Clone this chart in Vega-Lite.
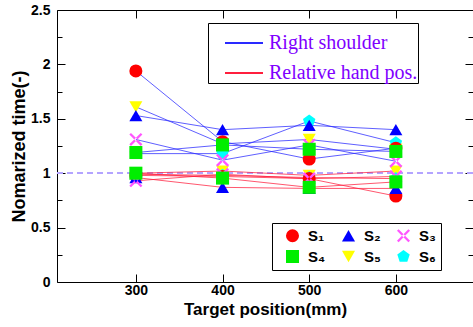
{
  "$schema": "https://vega.github.io/schema/vega-lite/v6.json",
  "autosize": {"type": "none"},
  "padding": {"left": 57, "top": 10, "right": 0, "bottom": 45},
  "width": 416,
  "height": 272,
  "config": {
    "view": {"stroke": null},
    "font": "Liberation Sans",
    "axis": {"grid": false, "domainColor": "#000000", "tickColor": "#000000", "labelColor": "#000000", "titleColor": "#000000"}
  },
  "data": {
    "values": [
      {"pos": 300, "group": "Right shoulder", "subject": "s5", "value": 1.61},
      {"pos": 400, "group": "Right shoulder", "subject": "s5", "value": 1.27},
      {"pos": 500, "group": "Right shoulder", "subject": "s5", "value": 1.31},
      {"pos": 600, "group": "Right shoulder", "subject": "s5", "value": 1.22},
      {"pos": 300, "group": "Relative hand pos.", "subject": "s5", "value": 1.00},
      {"pos": 400, "group": "Relative hand pos.", "subject": "s5", "value": 1.02},
      {"pos": 500, "group": "Relative hand pos.", "subject": "s5", "value": 0.98},
      {"pos": 600, "group": "Relative hand pos.", "subject": "s5", "value": 1.02},
      {"pos": 300, "group": "Right shoulder", "subject": "s6", "value": 1.18},
      {"pos": 400, "group": "Right shoulder", "subject": "s6", "value": 1.18},
      {"pos": 500, "group": "Right shoulder", "subject": "s6", "value": 1.48},
      {"pos": 600, "group": "Right shoulder", "subject": "s6", "value": 1.28},
      {"pos": 300, "group": "Relative hand pos.", "subject": "s6", "value": 0.99},
      {"pos": 400, "group": "Relative hand pos.", "subject": "s6", "value": 0.98},
      {"pos": 500, "group": "Relative hand pos.", "subject": "s6", "value": 0.96},
      {"pos": 600, "group": "Relative hand pos.", "subject": "s6", "value": 0.95},
      {"pos": 300, "group": "Right shoulder", "subject": "s1", "value": 1.94},
      {"pos": 400, "group": "Right shoulder", "subject": "s1", "value": 1.29},
      {"pos": 500, "group": "Right shoulder", "subject": "s1", "value": 1.13},
      {"pos": 600, "group": "Right shoulder", "subject": "s1", "value": 1.23},
      {"pos": 300, "group": "Relative hand pos.", "subject": "s1", "value": 0.98},
      {"pos": 400, "group": "Relative hand pos.", "subject": "s1", "value": 0.97},
      {"pos": 500, "group": "Relative hand pos.", "subject": "s1", "value": 0.95},
      {"pos": 600, "group": "Relative hand pos.", "subject": "s1", "value": 0.79},
      {"pos": 300, "group": "Right shoulder", "subject": "s2", "value": 1.53},
      {"pos": 400, "group": "Right shoulder", "subject": "s2", "value": 1.40},
      {"pos": 500, "group": "Right shoulder", "subject": "s2", "value": 1.44},
      {"pos": 600, "group": "Right shoulder", "subject": "s2", "value": 1.40},
      {"pos": 300, "group": "Relative hand pos.", "subject": "s2", "value": 0.96},
      {"pos": 400, "group": "Relative hand pos.", "subject": "s2", "value": 0.87},
      {"pos": 500, "group": "Relative hand pos.", "subject": "s2", "value": 0.86},
      {"pos": 600, "group": "Relative hand pos.", "subject": "s2", "value": 0.86},
      {"pos": 300, "group": "Right shoulder", "subject": "s3", "value": 1.31},
      {"pos": 400, "group": "Right shoulder", "subject": "s3", "value": 1.12},
      {"pos": 500, "group": "Right shoulder", "subject": "s3", "value": 1.26},
      {"pos": 600, "group": "Right shoulder", "subject": "s3", "value": 1.11},
      {"pos": 300, "group": "Relative hand pos.", "subject": "s3", "value": 0.93},
      {"pos": 400, "group": "Relative hand pos.", "subject": "s3", "value": 0.99},
      {"pos": 500, "group": "Relative hand pos.", "subject": "s3", "value": 0.95},
      {"pos": 600, "group": "Relative hand pos.", "subject": "s3", "value": 0.97},
      {"pos": 300, "group": "Right shoulder", "subject": "s4", "value": 1.19},
      {"pos": 400, "group": "Right shoulder", "subject": "s4", "value": 1.26},
      {"pos": 500, "group": "Right shoulder", "subject": "s4", "value": 1.22},
      {"pos": 600, "group": "Right shoulder", "subject": "s4", "value": 1.20},
      {"pos": 300, "group": "Relative hand pos.", "subject": "s4", "value": 1.00},
      {"pos": 400, "group": "Relative hand pos.", "subject": "s4", "value": 0.955},
      {"pos": 500, "group": "Relative hand pos.", "subject": "s4", "value": 0.87},
      {"pos": 600, "group": "Relative hand pos.", "subject": "s4", "value": 0.92}
    ]
  },
  "layer": [
    {
      "mark": {"type": "rule", "color": "#b3a3ff", "strokeDash": [6, 4], "strokeWidth": 1.5},
      "encoding": {
        "y": {"datum": 1, "type": "quantitative", "scale": {"domain": [0, 2.5]}, "axis": null}
      }
    },
    {
      "mark": {"type": "line", "strokeWidth": 1, "opacity": 0.75},
      "encoding": {
        "x": {"field": "pos", "type": "quantitative", "scale": {"domain": [209, 689], "nice": false, "zero": false},
          "axis": {"orient": "bottom", "values": [300, 400, 500, 600], "tickSize": -8, "labelPadding": 9,
            "labelFontSize": 14, "labelFontWeight": "bold", "title": "Target position(mm)", "titleFontSize": 17,
            "titleFontWeight": "bold", "titlePadding": 4}},
        "y": {"field": "value", "type": "quantitative", "scale": {"domain": [0, 2.5], "nice": false},
          "axis": {"orient": "left", "values": [0, 0.5, 1, 1.5, 2, 2.5], "format": "~g", "tickSize": -8, "labelPadding": 15,
            "labelFontSize": 14, "labelFontWeight": "bold", "title": "Nomarized time(-)", "titleFontSize": 18,
            "titleFontWeight": "bold", "titlePadding": 2}},
        "color": {"field": "group", "type": "nominal",
          "scale": {"domain": ["Right shoulder", "Relative hand pos."], "range": ["#2a2aff", "#ff1f3d"]},
          "legend": {"orient": "none", "legendX": 151, "legendY": 13, "title": null, "symbolType": "stroke",
            "symbolSize": 1444, "symbolStrokeWidth": 2, "symbolOpacity": 1, "symbolOffset": 16, "labelFont": "Liberation Serif",
            "labelFontSize": 20, "labelColor": "#7f00ff", "labelOffset": 5, "rowPadding": -10, "padding": 0,
            "strokeColor": "#000000", "fillColor": "#ffffff", "labelLimit": 400}},
        "detail": {"field": "subject"}
      }
    },
    {
      "mark": {"type": "point", "filled": true, "opacity": 1, "size": 170},
      "encoding": {
        "x": {"field": "pos", "type": "quantitative",
          "axis": {"orient": "top", "values": [300, 400, 500, 600], "tickSize": -8, "labels": false, "title": null}},
        "y": {"field": "value", "type": "quantitative",
          "axis": {"orient": "right", "values": [0, 0.5, 1, 1.5, 2, 2.5], "tickSize": -8, "labels": false, "domain": false, "title": null}},
        "color": {"field": "subject", "type": "nominal",
          "scale": {"domain": ["s1", "s2", "s3", "s4", "s5", "s6"], "range": ["#ff0000", "#0000ff", "#ff55ff", "#00ee00", "#ffff00", "#00ffff"]},
          "legend": {"orient": "none", "legendX": 215, "legendY": 213, "title": null, "columns": 3, "direction": "horizontal", "columnPadding": 7,
            "rowPadding": 5, "padding": 5, "symbolOffset": 8, "symbolSize": 170, "labelFontSize": 15, "labelFontWeight": "bold",
            "labelOffset": 8, "strokeColor": "#000000", "fillColor": "#ffffff",
            "labelExpr": "datum.label == 's1' ? 'S₁' : datum.label == 's2' ? 'S₂' : datum.label == 's3' ? 'S₃' : datum.label == 's4' ? 'S₄' : datum.label == 's5' ? 'S₅' : 'S₆'"}},
        "shape": {"field": "subject", "type": "nominal",
          "scale": {"domain": ["s1", "s2", "s3", "s4", "s5", "s6"],
            "range": ["circle", "triangle-up", "M-1,-0.75L-0.75,-1L1,0.75L0.75,1Z M1,-0.75L0.75,-1L-1,0.75L-0.75,1Z", "square", "triangle-down", "M0,-1L0.951,-0.309L0.588,0.809L-0.588,0.809L-0.951,-0.309Z"]},
          "legend": {"orient": "none", "legendX": 215, "legendY": 213, "title": null, "columns": 3, "direction": "horizontal", "columnPadding": 7,
            "rowPadding": 5, "padding": 5, "symbolOffset": 8, "symbolSize": 170, "labelFontSize": 15, "labelFontWeight": "bold",
            "labelOffset": 8, "strokeColor": "#000000", "fillColor": "#ffffff",
            "labelExpr": "datum.label == 's1' ? 'S₁' : datum.label == 's2' ? 'S₂' : datum.label == 's3' ? 'S₃' : datum.label == 's4' ? 'S₄' : datum.label == 's5' ? 'S₅' : 'S₆'"}}
      }
    },
    {
      "mark": {"type": "point", "opacity": 0},
      "encoding": {
        "x": {"field": "pos", "type": "quantitative", "axis": null},
        "y": {"field": "value", "type": "quantitative",
          "axis": {"orient": "left", "values": [0.25, 0.75, 1.25, 1.75, 2.25], "tickSize": -5, "labels": false, "domain": false, "title": null}}
      }
    },
    {
      "mark": {"type": "point", "opacity": 0},
      "encoding": {
        "x": {"field": "pos", "type": "quantitative", "axis": null},
        "y": {"field": "value", "type": "quantitative",
          "axis": {"orient": "right", "values": [0.25, 0.75, 1.25, 1.75, 2.25], "tickSize": -5, "labels": false, "domain": false, "title": null}}
      }
    }
  ],
  "resolve": {"scale": {"color": "independent", "shape": "independent"}, "axis": {"x": "independent", "y": "independent"}}
}
